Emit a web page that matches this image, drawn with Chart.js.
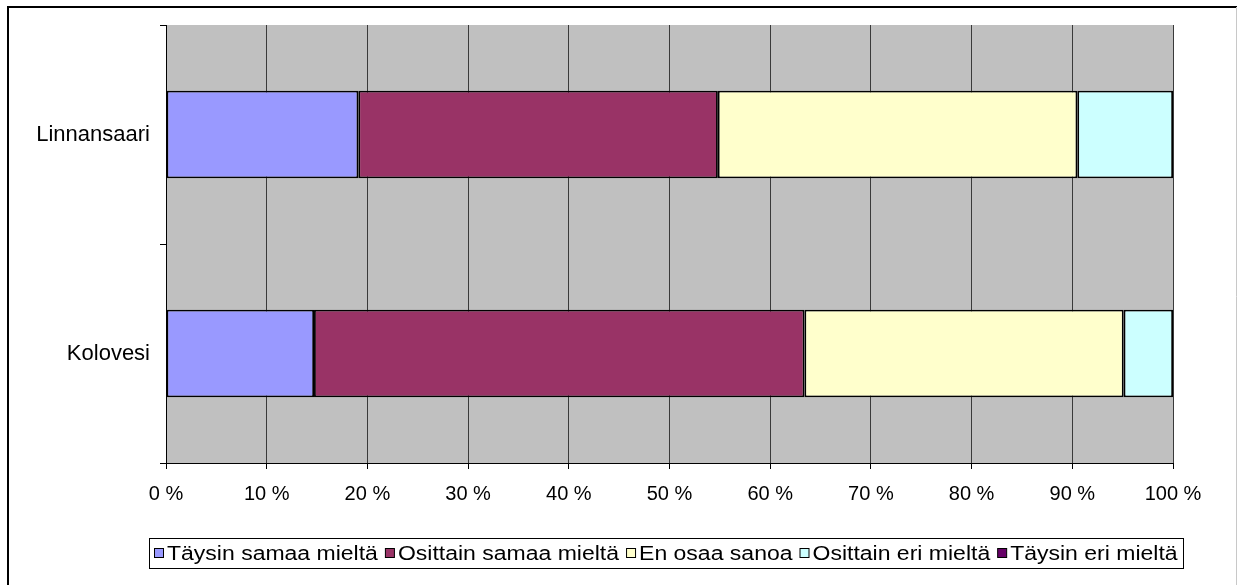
<!DOCTYPE html>
<html>
<head>
<meta charset="utf-8">
<script src="https://cdn.jsdelivr.net/npm/chart.js@4.4.1/dist/chart.umd.min.js"></script>
<style>
html,body{margin:0;padding:0;background:#fff;}
#wrap{width:1237px;height:585px;position:relative;}
</style>
</head>
<body>
<div id="wrap"><canvas id="c" width="1237" height="585"></canvas></div>
<script>
const categories = ["Linnansaari", "Kolovesi"];
const seriesNames = ["Täysin samaa mieltä", "Osittain samaa mieltä", "En osaa sanoa", "Osittain eri mieltä", "Täysin eri mieltä"];
const taysinSamaa = [19.1, 14.7];
const osittainSamaa = [35.7, 48.7];
const enOsaa = [35.7, 31.7];
const osittainEri = [9.5, 4.9];
const taysinEri = [0, 0];
const seriesColors = ["#9999FF", "#993366", "#FFFFCC", "#CCFFFF", "#660066"];
const xTickValues = [0, 10, 20, 30, 40, 50, 60, 70, 80, 90, 100];

const FONT = "'Liberation Sans', Arial, sans-serif";
const seriesData = [taysinSamaa, osittainSamaa, enOsaa, osittainEri, taysinEri];

const bgPlugin = {
  id: 'bg',
  beforeDraw(chart) {
    const {ctx, chartArea: a} = chart;
    ctx.save();
    ctx.fillStyle = '#C0C0C0';
    ctx.fillRect(a.left, a.top, a.right - a.left, a.bottom - a.top);
    ctx.restore();
  },
  afterDraw(chart) {
    const ctx = chart.ctx;
    ctx.save();
    // outer frame
    ctx.strokeStyle = '#000';
    ctx.lineWidth = 2;
    ctx.beginPath();
    ctx.moveTo(8, 600); ctx.lineTo(8, 7); ctx.lineTo(1237, 7);
    ctx.stroke();
    ctx.strokeStyle = '#C8C8C8';
    ctx.lineWidth = 1;
    ctx.beginPath();
    ctx.moveTo(1236.5, 7); ctx.lineTo(1236.5, 600);
    ctx.stroke();
    // legend
    const sx = 1.15;
    ctx.font = '20px ' + FONT;
    const box = 9, gapBT = 4, gapTB = 7;
    const widths = seriesNames.map(n => ctx.measureText(n).width * sx);
    let total = 0;
    widths.forEach((w, i) => { total += box + gapBT + w + (i < widths.length - 1 ? gapTB : 0); });
    const padX = 5;
    const cx = 665.5;
    let x = Math.round(cx - total / 2);
    const cy = 553;
    ctx.strokeStyle = '#000';
    ctx.lineWidth = 1;
    ctx.strokeRect(Math.round(x - padX) + 0.5, 538.5, Math.round(total + 2 * padX), 30);
    ctx.textBaseline = 'middle';
    seriesNames.forEach((n, i) => {
      ctx.fillStyle = seriesColors[i];
      ctx.fillRect(x + 0.5, cy - 4.5, box, box);
      ctx.strokeStyle = '#000';
      ctx.strokeRect(x + 0.5, cy - 4.5, box, box);
      x += box + gapBT;
      ctx.save();
      ctx.translate(x, cy + 1);
      ctx.scale(sx, 1);
      ctx.fillStyle = '#000';
      ctx.fillText(n, 0, 0);
      ctx.restore();
      x += widths[i] + gapTB;
    });
    ctx.restore();
  }
};

new Chart(document.getElementById('c'), {
  type: 'bar',
  data: {
    labels: categories,
    datasets: seriesNames.map((n, i) => ({
      label: n,
      data: seriesData[i],
      backgroundColor: seriesColors[i],
      borderColor: '#000',
      borderWidth: 1.8,
      borderSkipped: false,
      categoryPercentage: 1.0,
      barPercentage: 0.4
    }))
  },
  options: {
    indexAxis: 'y',
    responsive: false,
    animation: false,
    devicePixelRatio: 1,
    layout: {padding: {top: 25, right: 64, left: 0, bottom: 0}},
    plugins: {legend: {display: false}, tooltip: {enabled: false}},
    scales: {
      x: {
        stacked: true,
        min: 0, max: 100,
        afterBuildTicks(scale) { scale.ticks = xTickValues.map(v => ({value: v})); },
        afterFit(scale) { scale.height = 122; },
        grid: {color: '#3a3a3a', lineWidth: 1, tickLength: 6, tickColor: '#000', drawTicks: true},
        border: {display: true, color: '#000', width: 1},
        ticks: {
          color: '#000',
          font: {family: FONT, size: 20},
          padding: 13,
          maxRotation: 0,
          callback: v => v + ' %'
        }
      },
      y: {
        stacked: true,
        afterFit(scale) { scale.width = 166; },
        grid: {display: true, drawOnChartArea: false, drawTicks: true, tickLength: 6, color: '#000', offset: true},
        border: {display: true, color: '#000', width: 1},
        ticks: {color: '#000', font: {family: FONT, size: 22}, padding: 10}
      }
    }
  },
  plugins: [bgPlugin]
});
</script>
</body>
</html>
